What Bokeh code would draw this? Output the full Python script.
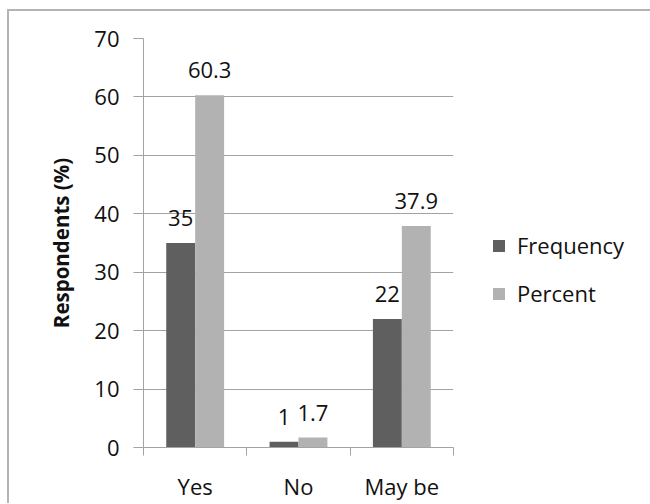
from bokeh.plotting import figure
from bokeh.models import (ColumnDataSource, Range1d, FixedTicker, LabelSet,
                          Legend, LegendItem)
from bokeh.core.properties import value
from bokeh.embed import file_html
from bokeh.resources import INLINE

categories = ["Yes", "No", "May be"]
frequency = [35, 1, 22]
percent = [60.3, 1.7, 37.9]
series_names = ["Frequency", "Percent"]
y_ticks = [0, 10, 20, 30, 40, 50, 60, 70]

DARK = "#5f5f5f"
LIGHT = "#b2b2b2"
GRID = "#a3a3a3"
TXT = "#111111"
FONT = "Open Sans"
W = 0.28

centers = [i + 0.5 for i in range(len(categories))]
src_f = ColumnDataSource(dict(x=[c - W / 2 for c in centers], top=frequency,
                              lab=[str(v) for v in frequency]))
src_p = ColumnDataSource(dict(x=[c + W / 2 for c in centers], top=percent,
                              lab=[str(v) for v in percent]))

# canvas starts at page (9, 11): 7/9 px margin + 2 px border
p = figure(width=635, height=487, output_backend="svg", toolbar_location=None,
           x_range=Range1d(0, len(categories)), y_range=Range1d(0, 70),
           frame_width=310, frame_height=409,
           min_border_left=134, min_border_right=191, min_border_top=27,
           min_border_bottom=51)
p.styles = {"border-left": "2px solid #b4b4b4", "border-top": "2px solid #b4b4b4",
            "margin-left": "7px", "margin-top": "9px"}
p.outline_line_color = None
p.background_fill_color = "white"
p.border_fill_color = "white"

rf = p.vbar(x="x", top="top", width=W, source=src_f, fill_color=DARK, line_color=None)
rp = p.vbar(x="x", top="top", width=W, source=src_p, fill_color=LIGHT, line_color=None)

for src in (src_f, src_p):
    p.add_layout(LabelSet(x="x", y="top", text="lab", source=src, y_offset=25,
                          text_align="center", text_baseline="middle",
                          text_font=value(FONT), text_font_size=value("22px"),
                          text_color=TXT))

# x axis
p.xaxis.ticker = FixedTicker(ticks=centers, minor_ticks=[0, 1, 2, 3])
p.xaxis.major_label_overrides = {c: lab for c, lab in zip(centers, categories)}
p.xaxis.major_tick_line_color = None
p.xaxis.major_tick_out = 0
p.xaxis.major_tick_in = 0
p.xaxis.minor_tick_line_color = GRID
p.xaxis.minor_tick_out = 8
p.xaxis.minor_tick_in = 0
p.xaxis.axis_line_color = GRID
p.xaxis.major_label_standoff = 15
p.xaxis.major_label_text_font = FONT
p.xaxis.major_label_text_font_size = "22px"
p.xaxis.major_label_text_color = TXT
p.xgrid.grid_line_color = None

# y axis
p.yaxis.ticker = FixedTicker(ticks=y_ticks)
p.yaxis.minor_tick_line_color = None
p.yaxis.major_tick_line_color = GRID
p.yaxis.major_tick_out = 10
p.yaxis.major_tick_in = 0
p.yaxis.axis_line_color = GRID
p.yaxis.major_label_standoff = 14
p.yaxis.major_label_text_font = FONT
p.yaxis.major_label_text_font_size = "22px"
p.yaxis.major_label_text_color = TXT
p.yaxis.axis_label = "Respondents (%)"
p.yaxis.axis_label_text_font = FONT
p.yaxis.axis_label_text_font_size = "20.5px"
p.yaxis.axis_label_text_font_style = "bold"
p.yaxis.axis_label_text_color = TXT
p.yaxis.axis_label_standoff = 16
p.ygrid.grid_line_color = GRID

legend = Legend(items=[LegendItem(label=series_names[0], renderers=[rf]),
                       LegendItem(label=series_names[1], renderers=[rp])],
                location=(38, 139), orientation="vertical",
                glyph_width=15, glyph_height=15, label_height=20,
                spacing=18, padding=0, margin=0, border_line_color=None,
                background_fill_alpha=0, label_text_font=FONT,
                label_text_font_size="22px", label_text_color=TXT,
                label_standoff=11)
p.add_layout(legend, "right")

open("out.html", "w").write(file_html(p, INLINE))
